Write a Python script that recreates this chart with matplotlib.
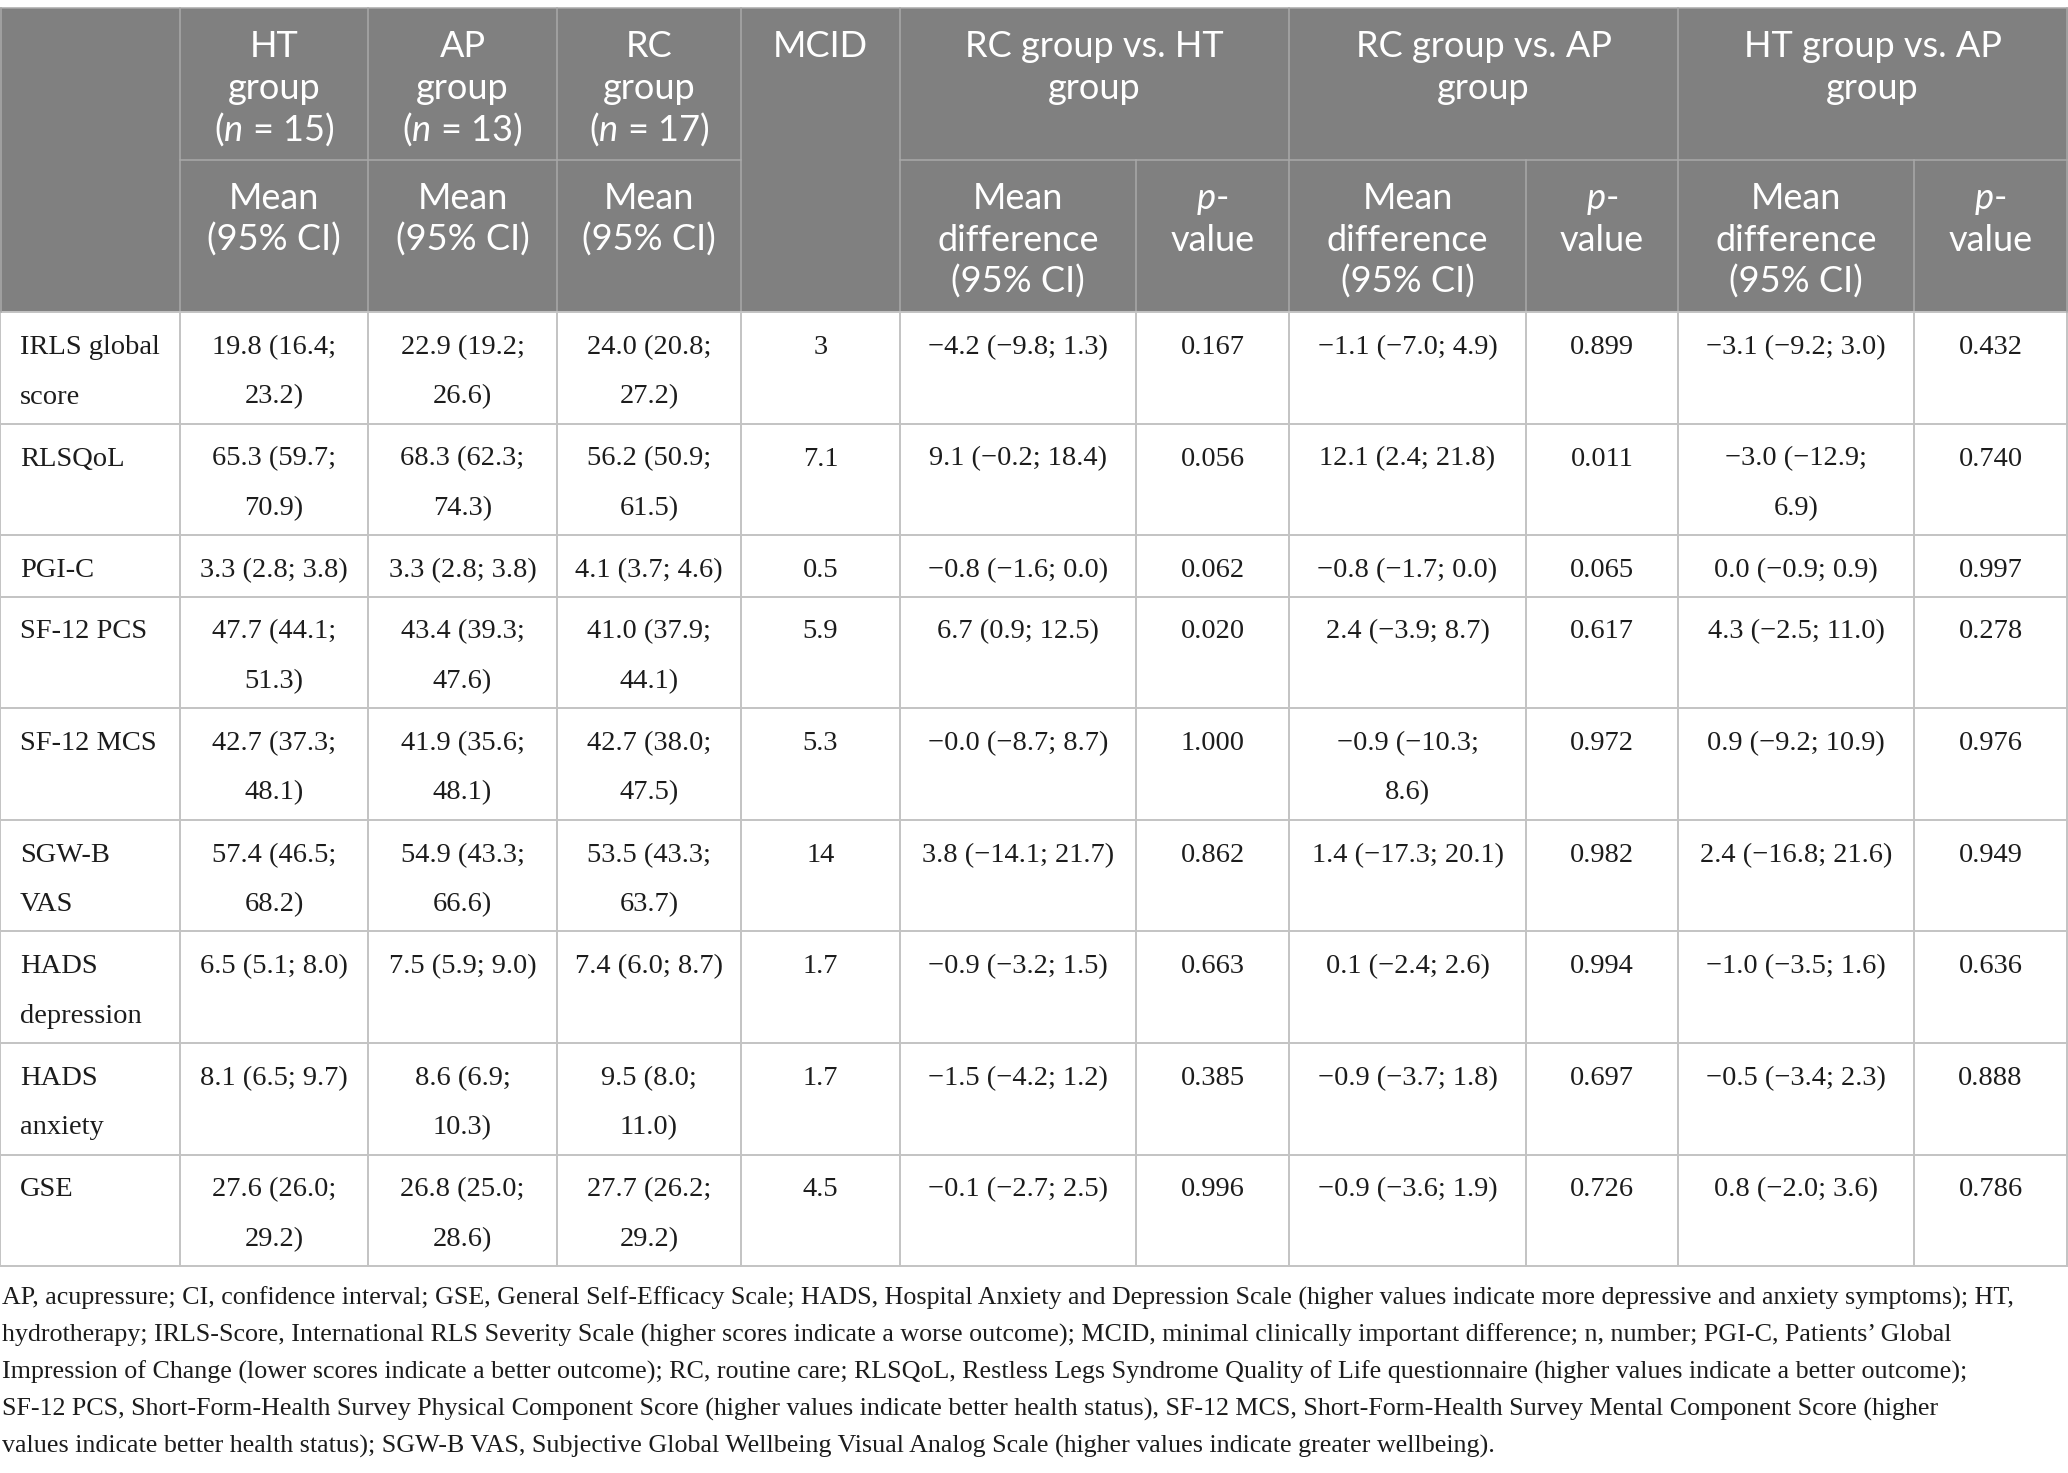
import matplotlib
matplotlib.use("Agg")
import matplotlib.pyplot as plt
from matplotlib.patches import Rectangle

# ---------------- data ----------------
measures = ["IRLS global\nscore", "RLSQoL", "PGI-C", "SF-12 PCS", "SF-12 MCS",
            "SGW-B\nVAS", "HADS\ndepression", "HADS\nanxiety", "GSE"]
ht_mean = ["19.8 (16.4;\n23.2)", "65.3 (59.7;\n70.9)", "3.3 (2.8; 3.8)", "47.7 (44.1;\n51.3)",
           "42.7 (37.3;\n48.1)", "57.4 (46.5;\n68.2)", "6.5 (5.1; 8.0)", "8.1 (6.5; 9.7)",
           "27.6 (26.0;\n29.2)"]
ap_mean = ["22.9 (19.2;\n26.6)", "68.3 (62.3;\n74.3)", "3.3 (2.8; 3.8)", "43.4 (39.3;\n47.6)",
           "41.9 (35.6;\n48.1)", "54.9 (43.3;\n66.6)", "7.5 (5.9; 9.0)", "8.6 (6.9;\n10.3)",
           "26.8 (25.0;\n28.6)"]
rc_mean = ["24.0 (20.8;\n27.2)", "56.2 (50.9;\n61.5)", "4.1 (3.7; 4.6)", "41.0 (37.9;\n44.1)",
           "42.7 (38.0;\n47.5)", "53.5 (43.3;\n63.7)", "7.4 (6.0; 8.7)", "9.5 (8.0;\n11.0)",
           "27.7 (26.2;\n29.2)"]
mcid = ["3", "7.1", "0.5", "5.9", "5.3", "14", "1.7", "1.7", "4.5"]
rc_ht_md = ["−4.2 (−9.8; 1.3)", "9.1 (−0.2; 18.4)", "−0.8 (−1.6; 0.0)", "6.7 (0.9; 12.5)",
            "−0.0 (−8.7; 8.7)", "3.8 (−14.1; 21.7)", "−0.9 (−3.2; 1.5)", "−1.5 (−4.2; 1.2)",
            "−0.1 (−2.7; 2.5)"]
rc_ht_p = ["0.167", "0.056", "0.062", "0.020", "1.000", "0.862", "0.663", "0.385", "0.996"]
rc_ap_md = ["−1.1 (−7.0; 4.9)", "12.1 (2.4; 21.8)", "−0.8 (−1.7; 0.0)", "2.4 (−3.9; 8.7)",
            "−0.9 (−10.3;\n8.6)", "1.4 (−17.3; 20.1)", "0.1 (−2.4; 2.6)", "−0.9 (−3.7; 1.8)",
            "−0.9 (−3.6; 1.9)"]
rc_ap_p = ["0.899", "0.011", "0.065", "0.617", "0.972", "0.982", "0.994", "0.697", "0.726"]
ht_ap_md = ["−3.1 (−9.2; 3.0)", "−3.0 (−12.9;\n6.9)", "0.0 (−0.9; 0.9)", "4.3 (−2.5; 11.0)",
            "0.9 (−9.2; 10.9)", "2.4 (−16.8; 21.6)", "−1.0 (−3.5; 1.6)", "−0.5 (−3.4; 2.3)",
            "0.8 (−2.0; 3.6)"]
ht_ap_p = ["0.432", "0.740", "0.997", "0.278", "0.976", "0.949", "0.636", "0.888", "0.786"]

group_headers = ["HT\ngroup\n($n$ = 15)", "AP\ngroup\n($n$ = 13)", "RC\ngroup\n($n$ = 17)"]
mcid_header = "MCID"
comparison_headers = ["RC group vs. HT\ngroup", "RC group vs. AP\ngroup", "HT group vs. AP\ngroup"]
mean_sub = "Mean\n(95% CI)"
md_sub = "Mean\ndifference\n(95% CI)"
p_sub = "$p$-\nvalue"

footnote = [
    "AP, acupressure; CI, confidence interval; GSE, General Self-Efficacy Scale; HADS, Hospital Anxiety and Depression Scale (higher values indicate more depressive and anxiety symptoms); HT,",
    "hydrotherapy; IRLS-Score, International RLS Severity Scale (higher scores indicate a worse outcome); MCID, minimal clinically important difference; n, number; PGI-C, Patients\u2019 Global",
    "Impression of Change (lower scores indicate a better outcome); RC, routine care; RLSQoL, Restless Legs Syndrome Quality of Life questionnaire (higher values indicate a better outcome);",
    "SF-12 PCS, Short-Form-Health Survey Physical Component Score (higher values indicate better health status), SF-12 MCS, Short-Form-Health Survey Mental Component Score (higher",
    "values indicate better health status); SGW-B VAS, Subjective Global Wellbeing Visual Analog Scale (higher values indicate greater wellbeing).",
]

# ---------------- layout ----------------
W, H = 2068, 1473
plt.rcParams["mathtext.fontset"] = "custom"
plt.rcParams["mathtext.it"] = "Lato:italic"
plt.rcParams["mathtext.rm"] = "Lato"

fig = plt.figure(figsize=(W / 100, H / 100), dpi=100)
ax = fig.add_axes([0, 0, 1, 1])
ax.set_xlim(0, W)
ax.set_ylim(H, 0)
ax.axis("off")

col_x = [0, 180, 368, 557, 741, 900, 1136, 1289, 1526, 1678, 1914, 2067]
head_top, head_mid, head_bot = 8, 160, 312

HEAD_BG = "#808080"
HEAD_LINE = "#a9a9a9"
BODY_LINE = "#c3c3c3"
TXT = "#1c1c1c"
head_font = dict(family="Lato", fontsize=26, color="white")
body_font = dict(family="Liberation Serif", fontsize=20.5, color=TXT)

HP = 42.0   # header line pitch
BP = 49.5   # body line pitch


def draw_lines(x, top, text, first, pitch, ha, font):
    for i, ln in enumerate(text.split("\n")):
        ax.text(x, top + first + i * pitch, ln, ha=ha, va="baseline", **font)


# header background
ax.add_patch(Rectangle((0, head_top), W, head_bot - head_top, facecolor=HEAD_BG,
                       edgecolor="none", zorder=0))

# header text
for k, txt in enumerate(group_headers):
    cx = (col_x[1 + k] + col_x[2 + k]) / 2
    draw_lines(cx, head_top, txt, 49, HP, "center", head_font)
    draw_lines(cx, head_mid, mean_sub, 49, HP, "center", head_font)
draw_lines((col_x[4] + col_x[5]) / 2, head_top, mcid_header, 49, HP, "center", head_font)
for k, txt in enumerate(comparison_headers):
    a = col_x[5 + 2 * k]
    b = col_x[6 + 2 * k]
    c = col_x[7 + 2 * k]
    draw_lines((a + c) / 2, head_top, txt, 49, HP, "center", head_font)
    draw_lines((a + b) / 2, head_mid, md_sub, 49, HP, "center", head_font)
    draw_lines((b + c) / 2, head_mid, p_sub, 49, HP, "center", head_font)

# header grid
hlw = 1.1
for x in [180, 368, 557, 741, 900, 1289, 1678]:
    ax.plot([x, x], [head_top, head_bot], color=HEAD_LINE, lw=hlw, zorder=1)
for x in [1136, 1526, 1914]:
    ax.plot([x, x], [head_mid, head_bot], color=HEAD_LINE, lw=hlw, zorder=1)
ax.plot([180, 741], [head_mid, head_mid], color=HEAD_LINE, lw=hlw, zorder=1)
ax.plot([900, W], [head_mid, head_mid], color=HEAD_LINE, lw=hlw, zorder=1)
ax.plot([0, W], [head_top, head_top], color=HEAD_LINE, lw=hlw, zorder=1)

# body
columns = [measures, ht_mean, ap_mean, rc_mean, mcid, rc_ht_md, rc_ht_p,
           rc_ap_md, rc_ap_p, ht_ap_md, ht_ap_p]
y = head_bot
row_edges = [y]
for r in range(len(measures)):
    nlines = max(col[r].count("\n") + 1 for col in columns)
    h = 11 + 50.3 * nlines
    for c, col in enumerate(columns):
        if c == 0:
            draw_lines(col_x[0] + 20, y, col[r], 42, BP, "left", body_font)
        else:
            draw_lines((col_x[c] + col_x[c + 1]) / 2, y, col[r], 42, BP, "center", body_font)
    y += h
    row_edges.append(y)

blw = 1.4
for ry in row_edges:
    ax.plot([0, W], [ry, ry], color=BODY_LINE, lw=blw, zorder=1)
for x in col_x:
    ax.plot([x, x], [head_bot, row_edges[-1]], color=BODY_LINE, lw=blw, zorder=1)
ax.plot([0.7, 0.7], [head_top, head_bot], color=HEAD_LINE, lw=hlw, zorder=1)
ax.plot([W - 0.7, W - 0.7], [head_top, head_bot], color=HEAD_LINE, lw=hlw, zorder=1)

# footnote
foot_font = dict(family="Liberation Serif", fontsize=18.7, color=TXT)
for i, ln in enumerate(footnote):
    ax.text(2, row_edges[-1] + 38 + i * 37.2, ln, ha="left", va="baseline", **foot_font)

fig.savefig("out.png", dpi=100, facecolor="white")
